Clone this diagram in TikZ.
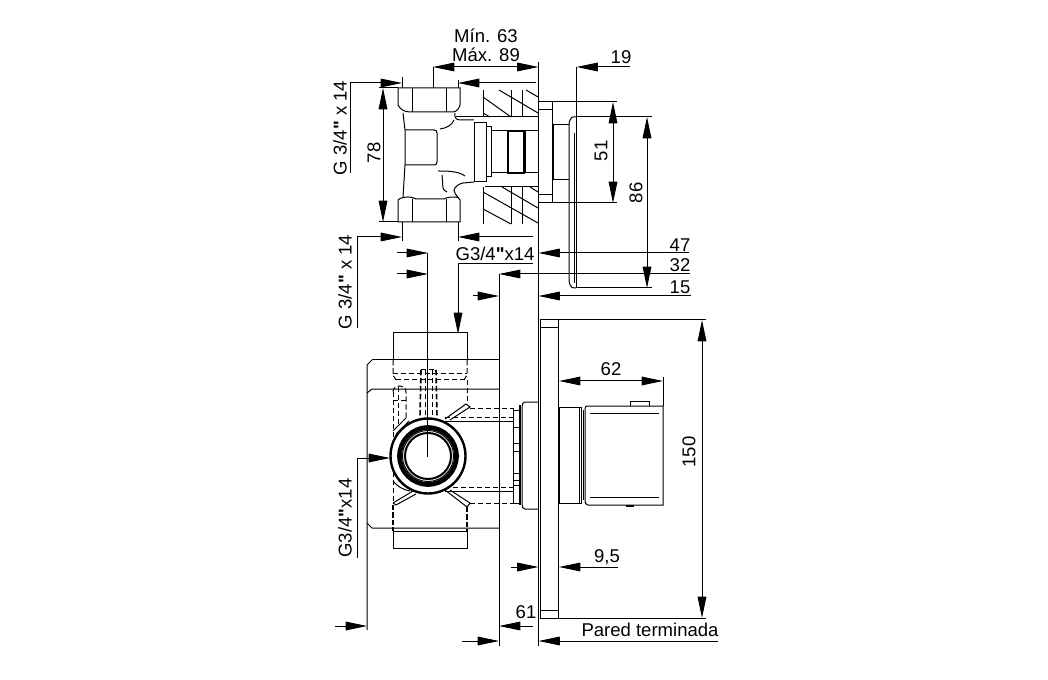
\documentclass[tikz,border=0pt]{standalone}
\usepackage{fontspec}
\setmainfont{Liberation Sans}[Ligatures=TeXOff]
\usetikzlibrary{arrows.meta}
\tikzset{every picture/.style={line width=0.75pt}}
\tikzset{dimline/.style={-{Triangle[length=16pt,width=6.5pt]}},
  dimboth/.style={{Triangle[length=16pt,width=6.5pt]}-{Triangle[length=16pt,width=6.5pt]}},
  thin hidden/.style={dash pattern=on 4pt off 2pt},
  thick hidden/.style={line width=2pt,dash pattern=on 4pt off 1.5pt},
  dimtext/.style={inner sep=0.75pt,font=\fontsize{13.9}{13.9}\selectfont}}
\newcommand{\inchmark}{{\bfseries"}}

\begin{document}
\begin{tikzpicture}[x=0.75pt,y=0.75pt,yscale=-1,xscale=1]
\useasboundingbox (0,0) rectangle (1048,680);

%Shape: wall lines
\draw (538.5,62) -- (538.5,646);
\draw (499,274) -- (499,646);

%Shape: top view, hatched wall
\draw (483,90) -- (483,117) (511,90) -- (511,117) (522,90) -- (522,117);
\draw (483,187) -- (483,224) (511,187) -- (511,224) (522,187) -- (522,224);
\draw (456,117) -- (538,117) (485,187) -- (538,187);
\draw (483,97) -- (511,117) (499,90) -- (538,113) (526,90) -- (538,97) (483,113) -- (490,117);
\draw (483,192) -- (538,223) (502,187) -- (538,208) (530,187) -- (538,192) (483,209) -- (511,224);

%Shape: top view, fitting
\draw (398,88) -- (460,88) -- (460,105) .. controls (459,109) and (456,112) .. (453,112) -- (410,112) .. controls (404,112) and (400,109) .. (398,105) -- cycle;
\draw (412,88) -- (412,112) (446,88) -- (446,112);
\draw (398,200) .. controls (400,198) and (404,197) .. (408,197) .. controls (412,197) and (414,198) .. (416,199) -- (444,199) .. controls (447,197) and (452,197) .. (456,197) .. controls (458,197) and (459,198) .. (460,200) -- (460,222) -- (398,222) -- cycle;
\draw (412,199) -- (412,222) (446,199) -- (446,222);
\draw (403,113) -- (405,130) -- (405,165) -- (403,197);
\draw (405,130) -- (434,130) .. controls (436,130) and (437,131) .. (437,133) -- (437,162) .. controls (437,164) and (436,165) .. (434,165) -- (405,165);
\draw (455,113) .. controls (454,117) and (456,120) .. (460,120) -- (474,120);
\draw (440,129) .. controls (447,128) and (452,125) .. (454,120);
\draw (474,182) -- (463,183) .. controls (458,184) and (455,187) .. (454,190) .. controls (454,193) and (456,195) .. (458,197);
\draw (438,171) .. controls (447,171) and (458,171) .. (465,176);
\draw (442,175) .. controls (443,182) and (442,188) .. (444,190) -- (447,192);
\draw (474,123) rectangle (486,182);
\draw (486,127) rectangle (491,177);
\draw (491,131) rectangle (508,173);
\draw [line width=1.2pt] (508,131) rectangle (524,173);
\draw (525,131) -- (538,131) (525,173) -- (538,173) (525,131) -- (525,173);

%Shape: top view, plate
\draw (538.5,102) -- (617,102) (538.5,203) -- (617,203);
\draw (538.5,110) -- (552,110) (538.5,195) -- (552,195);
\draw (552,102) -- (552,203);
\draw [line width=1.2pt] (553,125) -- (553,180);
\draw (553,125) -- (569,125) (553,180) -- (569,180);
\draw (576,117) -- (573,117) .. controls (571,117) and (569,121) .. (569,125) -- (569,280) .. controls (569,284) and (571,288) .. (574,288) -- (576,288);
\draw (576.5,67) -- (576.5,288);
\draw (574,133) -- (574,283);
\draw (576,117) -- (652,117) (576,288) -- (652,288);

%Straight Lines: top view, dimensions
\draw [dimboth] (433,67) -- (538.5,67);
\draw (433,67) -- (433,88);
\draw [dimboth] (383,88) -- (383,222);
\draw (379,88) -- (398,88) (379,222) -- (398,222);
\draw [dimboth] (613,102) -- (613,203);
\draw [dimboth] (647,117) -- (647,288);
\draw [dimline] (630,67) -- (576.5,67);
\draw [dimline] (350,173) -- (350,83) -- (402,83);
\draw (402,77) -- (402,88);
\draw [dimline] (536,83) -- (458,83);
\draw (458,80) -- (458,88);
\draw [dimline] (357,328) -- (357,237) -- (402,237);
\draw (402,222) -- (402,241);
\draw [dimline] (533,237) -- (458,237);
\draw (458,222) -- (458,241);
\draw [dimline] (397,253) -- (428,253);
\draw [dimline] (397,274) -- (428,274);
\draw [dimline] (689,253) -- (538.5,253);
\draw [dimline] (690,274) -- (499,274);
\draw [dimline] (691,296) -- (538.5,296);
\draw [dimline] (473,296) -- (499,296);
\draw [dimline] (533,264) -- (458,264) -- (458,334);

%Shape: front view, body
\draw (393,360) -- (393,333) -- (467,333) -- (467,360);
\draw (372,360) -- (499,360);
\draw (372,360) -- (367,365) -- (367,630);
\draw (367,393) -- (372,389) -- (499,389);
\draw (367,523) -- (372,528) -- (499,528);
\draw (393,531) -- (467,531) -- (467,548) -- (393,548) -- cycle;

%Shape: front view, hidden lines
\draw [thin hidden] (393,360) -- (393,375) -- (396,380) (467,360) -- (467,375) -- (464,380);
\draw [thin hidden] (393,374) -- (467,374) (396,380) -- (467,380);
\draw [thin hidden] (467,380) -- (467,404);
\draw [thin hidden,line width=1.2pt] (421,370) -- (420,417) (436,370) -- (437,417);
\draw [thin hidden] (421,370) -- (436,370) (425,370) -- (425,417) (432,370) -- (432,417);
\draw [thin hidden] (393,392) .. controls (393,388) and (396,386) .. (399,386) .. controls (403,386) and (406,388) .. (406,392) -- (406,420);
\draw [thin hidden] (393,400) -- (406,400) (393,392) -- (393,503) (398,387) -- (398,425);
\draw [thick hidden] (393,505) -- (393,531) (467,507) -- (467,531);
\draw (466,404) -- (445,419) (466,404) -- (470,407) -- (450,420);
\draw (393,431) -- (406,418) (396,434) -- (409,421);
\draw (393,481) .. controls (397,486) and (403,490) .. (410,491);
\draw (393,503) -- (413,491) (396,505) -- (416,494) (393,503) -- (396,505);
\draw (445,490) -- (467,507) (450,490) -- (470,503) (467,507) -- (470,503);
\draw [thin hidden] (470,408) -- (513,408) (470,503) -- (513,503);
\draw [thin hidden] (445,417) -- (513,417) (445,487) -- (513,487);
\draw (445,421) -- (513,421) (445,491) -- (513,491);

%Shape: front view, outlet and flange
\draw (513,408) -- (513,503);
\draw (513,410) rectangle (519,427);
\draw (513,443) rectangle (519,451);
\draw (513,473) rectangle (519,480);
\draw (513,485) rectangle (519,503);
\draw [line width=1.2pt] (520,405) -- (520,505);
\draw (538,402) -- (525,402) .. controls (523,402) and (522,404) .. (522,407) -- (522,504) .. controls (522,507) and (523,509) .. (525,509) -- (538,509);

%Shape: front view, plate and handle
\draw (540,320) rectangle (558,618);
\draw (540,328) -- (558,328) (540,610) -- (558,610);
\draw (558,320) -- (706,320) (558,618) -- (706,618);
\draw (559,407) rectangle (579,503);
\draw (579,407) -- (581,407) -- (581,503) -- (579,503);
\draw (583,410) -- (583,500);
\draw (587,406) -- (663,406) -- (663,505) -- (588,505) .. controls (586,505) and (585,503) .. (585,501) -- (585,409) .. controls (585,407) and (586,406) .. (587,406);
\draw (590,413) -- (659,413) (590,497) -- (659,497);
\draw (630,406) -- (630,401) -- (649,401) -- (649,406);
\draw [line width=1.5pt] (626,506) -- (634,506);

%Shape: Circle
\draw [fill=white, line width=1.8pt] (428,456) circle (37.5);
\draw [line width=3.5pt] (428,456) circle (28.5);
\draw (428,456) circle (25.5);
\draw [line width=1.5pt] (428,456) circle (23);
\draw (427,253) -- (427,457);

%Straight Lines: front view, dimensions
\draw [dimboth] (702,320) -- (702,618);
\draw [dimboth] (559,381) -- (663,381);
\draw (663,377) -- (663,406);
\draw [dimline] (618,567) -- (559,567);
\draw [dimline] (511,567) -- (538.5,567);
\draw [dimline] (533,626) -- (499,626);
\draw [dimline] (335,626) -- (367,626);
\draw [dimline] (462,641) -- (499,641);
\draw [dimline] (718,641) -- (538.5,641);
\draw [dimline] (357,558) -- (357,458) -- (390,458);

% Text Node
\node (lblMin) [dimtext] at (486,36) {Mín. 63};
% Text Node
\node (lblMax) [dimtext] at (486,55) {Máx. 89};
% Text Node
\node (lblNineteen) [dimtext] at (621,57) {19};
% Text Node
\node (lblThreadTop) [dimtext,rotate=90] at (340,128) {G 3/4\inchmark{} x 14};
% Text Node
\node (lblSeventyEight) [dimtext,rotate=90] at (374,153) {78};
% Text Node
\node (lblFiftyOne) [dimtext,rotate=90] at (601,151) {51};
% Text Node
\node (lblEightySix) [dimtext,rotate=90] at (636,193) {86};
% Text Node
\node (lblThreadMid) [dimtext,rotate=90] at (345,282) {G 3/4\inchmark{} x 14};
% Text Node
\node (lblThreadPort) [dimtext] at (495,254) {G3/4\inchmark{}x14};
% Text Node
\node (lblFortySeven) [dimtext] at (680,245) {47};
% Text Node
\node (lblThirtyTwo) [dimtext] at (680,265) {32};
% Text Node
\node (lblFifteen) [dimtext] at (680,287) {15};
% Text Node
\node (lblSixtyTwo) [dimtext] at (611,369) {62};
% Text Node
\node (lblOneFifty) [dimtext,rotate=90] at (689,452) {150};
% Text Node
\node (lblNineFive) [dimtext] at (607,557) {9,5};
% Text Node
\node (lblThreadLow) [dimtext,rotate=90] at (345,518) {G3/4\inchmark{}x14};
% Text Node
\node (lblSixtyOne) [dimtext] at (526,612) {61};
% Text Node
\node (lblPared) [dimtext] at (650,630) {Pared terminada};

\end{tikzpicture}
\end{document}
